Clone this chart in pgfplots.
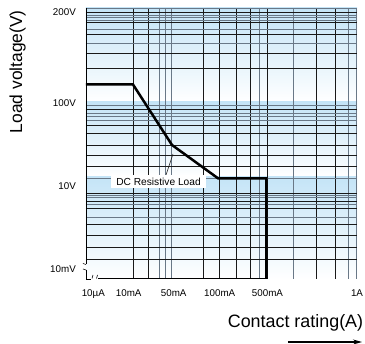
\documentclass[border=0pt]{standalone}
\usepackage{fontspec}
\setmainfont{Liberation Sans}
\usepackage{pgfplots}
\pgfplotsset{compat=1.18}
\usetikzlibrary{arrows.meta}
\definecolor{band}{RGB}{196,228,247}
\definecolor{gridk}{RGB}{25,25,25}
\definecolor{gridg}{RGB}{105,120,135}

\begin{document}
\begin{tikzpicture}
\path[use as bounding box] (-86pt,-65pt) rectangle (279pt,279pt);
% background bands (one per decade)
\shade[top color=band, middle color=band!80, bottom color=white] (0pt,177pt) rectangle (271pt,271pt);
\shade[top color=band, middle color=band!60, bottom color=white] (0pt,102pt) rectangle (271pt,177pt);
\shade[top color=band, middle color=band!55, bottom color=white] (0pt,0pt) rectangle (271pt,102pt);
\begin{axis}[
  scale only axis, width=271pt, height=271pt,
  at={(0pt,0pt)}, anchor=south west,
  xmin=0, xmax=271, ymin=0, ymax=271,
  clip=false,
  axis line style={draw=none},
  major tick length=0pt, minor tick length=0pt,
  xtick={47.3,62.3,117.3,133,150.7,164,181.3,230.7,249},
  minor xtick={73.3,79.3,85.7,173,207.3,262.3,270.7},
  ytick={267,256.8,244.3,225.3,210.7,170,153.5,145.7,133.7,123.3,112.3,86,78,71,55,44,32,20},
  minor ytick={270.8,263.5,261.7,258.7,249.7,236,173.5,165.7,162.3,158.3,100.7,84,82,75,62},
  xticklabels={}, yticklabels={},
  grid=both,
  major grid style={draw=gridk, line width=0.6pt},
  minor grid style={draw=gridg, line width=0.75pt},
  extra x ticks={7.3,42.7,87.7,133.7,181.5,271},
  extra x tick labels={10µA,10mA,50mA,100mA,500mA,1A},
  extra y ticks={267.3,175.7,93,9.7},
  extra y tick labels={200V,100V,10V,10mV},
  extra tick style={grid=none},
  tick label style={font=\fontsize{9.8}{11}\selectfont, inner sep=0pt},
  xticklabel style={anchor=base, yshift=-17.7pt},
  yticklabel style={anchor=east, xshift=-10pt},
]
\addplot[black, line width=2.5pt] coordinates {(0,194.5) (47,194.5) (86,134) (132,100.7) (180.5,100.7) (180.5,0)};
% label with leader
\draw[gridk, line width=0.5pt] (axis cs:80,104) -- (axis cs:87,125);
\node[fill=white, inner sep=0pt, minimum width=95pt, minimum height=13pt, font=\fontsize{10.2}{12}\selectfont] at (axis cs:72.5,97.5) {DC Resistive Load};
% axis lines with breaks
\draw[black, line width=0.8pt] (axis cs:0,271) -- (axis cs:0,15);
\draw[black, line width=0.6pt] (axis cs:-3,15.5) -- (axis cs:0,14.5);
\draw[black, line width=0.6pt] (axis cs:-3,10) -- (axis cs:0,9);
\draw[black, line width=0.8pt] (axis cs:0,9) -- (axis cs:0,0) -- (axis cs:5,0);
\draw[black, line width=0.6pt] (axis cs:6,0.5) -- (axis cs:7,4);
\draw[black, line width=0.6pt] (axis cs:10.5,0.5) -- (axis cs:11.5,4);
\draw[black, line width=1pt] (axis cs:12,0) -- (axis cs:181,0);
% axis titles
\node[rotate=90, anchor=base, font=\fontsize{17.4}{20}\selectfont] at (axis cs:-63.8,207.3) {Load voltage(V)};
\node[anchor=base, font=\fontsize{17.9}{20}\selectfont] at (axis cs:209.5,-49) {Contact rating(A)};
\draw[black, line width=1.2pt, -{Stealth[length=9pt,width=5pt]}] (axis cs:202,-63) -- (axis cs:276,-63);
\end{axis}
\end{tikzpicture}
\end{document}
